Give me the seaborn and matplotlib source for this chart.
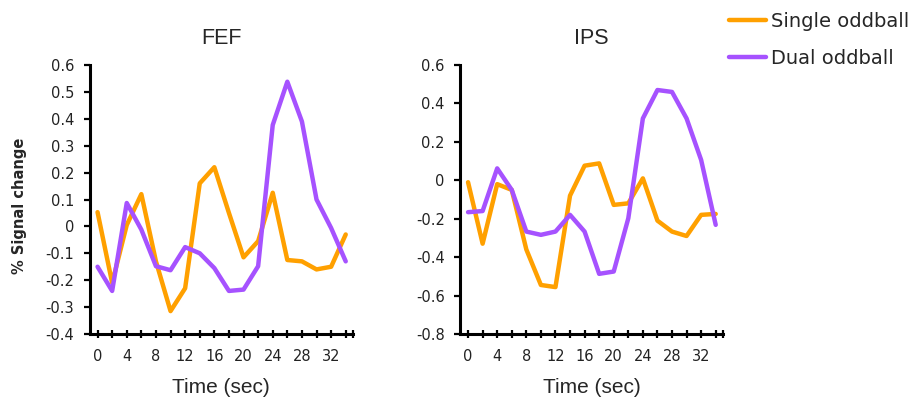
import numpy as np
import pandas as pd
import matplotlib
matplotlib.use("Agg")
import matplotlib.pyplot as plt
import seaborn as sns

# Time course (sec) and mean % signal change per region / condition
time_sec = [0, 2, 4, 6, 8, 10, 12, 14, 16, 18, 20, 22, 24, 26, 28, 30, 32, 34]

fef_single = [0.053, -0.21, 0.005, 0.12, -0.13, -0.315, -0.23, 0.16, 0.22, 0.05,
              -0.115, -0.055, 0.125, -0.125, -0.13, -0.16, -0.15, -0.03]
fef_dual = [-0.15, -0.24, 0.087, -0.012, -0.148, -0.163, -0.077, -0.10, -0.155, -0.24,
            -0.235, -0.148, 0.377, 0.538, 0.39, 0.10, -0.006, -0.13]

ips_single = [-0.01, -0.33, -0.02, -0.05, -0.36, -0.545, -0.556, -0.08, 0.076, 0.088,
              -0.128, -0.12, 0.01, -0.21, -0.267, -0.29, -0.18, -0.175]
ips_dual = [-0.166, -0.16, 0.062, -0.05, -0.267, -0.284, -0.267, -0.18, -0.267, -0.487,
            -0.475, -0.198, 0.322, 0.47, 0.46, 0.322, 0.106, -0.232]

conditions = ["Single oddball", "Dual oddball"]
colors = {"Single oddball": "#FFA000", "Dual oddball": "#A652FF"}

fef_ticks = [-0.4, -0.3, -0.2, -0.1, 0, 0.1, 0.2, 0.3, 0.4, 0.5, 0.6]
ips_ticks = [-0.8, -0.6, -0.4, -0.2, 0, 0.2, 0.4, 0.6]
x_labels = [0, 4, 8, 12, 16, 20, 24, 28, 32]


def long_frame(single, dual):
    return pd.DataFrame({
        "time": time_sec * 2,
        "signal": single + dual,
        "condition": [conditions[0]] * len(single) + [conditions[1]] * len(dual),
    })


def fmt(v):
    s = f"{v:.1f}"
    return "0" if s in ("0.0", "-0.0") else s


sns.set_style("white")
plt.rcParams["font.family"] = ["DejaVu Sans"]

fig = plt.figure(figsize=(9.21, 3.99), dpi=100)
bottom, top = 0.163, 0.837
ax1 = fig.add_axes([0.0972, bottom, 0.2861, top - bottom])
ax2 = fig.add_axes([0.4995, bottom, 0.2855, top - bottom])

panels = [
    (ax1, "FEF", fef_single, fef_dual, fef_ticks),
    (ax2, "IPS", ips_single, ips_dual, ips_ticks),
]

for ax, title, single, dual, yt in panels:
    df = long_frame(single, dual)
    sns.lineplot(data=df, x="time", y="signal", hue="condition", hue_order=conditions,
                 palette=colors, linewidth=3.2, legend=False, ax=ax)
    ax.set_xlim(-1.1, 35)
    ax.set_ylim(yt[0], yt[-1])
    ax.set_yticks(yt)
    ax.set_yticklabels([fmt(v) for v in yt])
    # one tick mark per sample, labelled every 4 s
    ax.set_xticks(time_sec + [35])
    ax.set_xticklabels([str(t) if t in x_labels else "" for t in time_sec] + [""])
    ax.tick_params(axis="x", which="major", direction="inout", length=6, width=1.6,
                   color="black", pad=8, labelsize=10.5, labelcolor="#222222", bottom=True)
    ax.tick_params(axis="y", which="major", direction="out", length=4, width=1.6,
                   pad=7, labelsize=10.5, color="black", labelcolor="#222222", left=True)
    for side in ("top", "right"):
        ax.spines[side].set_visible(False)
    for side in ("left", "bottom"):
        ax.spines[side].set_color("black")
        ax.spines[side].set_linewidth(2.2)
    ax.set_xlabel("Time (sec)", fontsize=15, family="Liberation Sans", labelpad=10)
    ax.set_ylabel("")
    ax.set_title(title, fontsize=15.5, family="Liberation Sans", pad=15)
    ax.grid(False)

fig.text(20 / 921, 1 - 206 / 399, "% Signal change", rotation=90, fontsize=10.5,
         fontweight="bold", ha="center", va="center")

handles = ax1.get_lines()[:2]
fig.legend(handles, conditions, loc="upper left", bbox_to_anchor=(0.779, 1.0),
           frameon=False, fontsize=14, handlelength=1.9, handletextpad=0.25,
           labelspacing=0.95, borderaxespad=0.2)

fig.savefig("out.png", dpi=100)
